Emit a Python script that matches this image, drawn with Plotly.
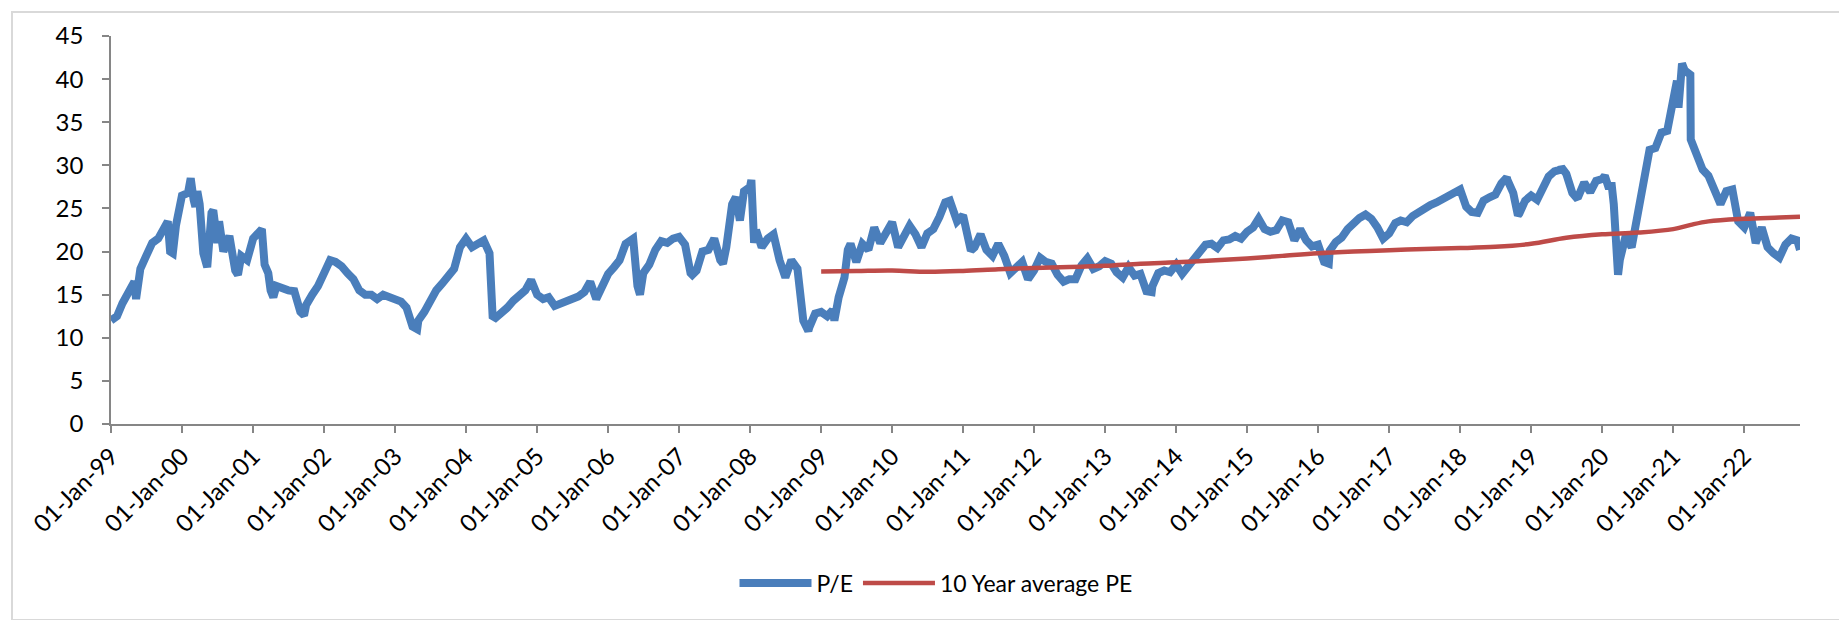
import pandas as pd
import plotly.graph_objects as go

# ---- data ----
years = list(range(1999, 2023))
pe_monthly = {
    1999: [12.0, 12.5, 14.0, 15.5, 16.5, 18.0, 19.5, 21.0, 21.5, 23.0, 20.0, 23.0],
    2000: [26.5, 26.8, 26.0, 25.5, 18.5, 24.5, 21.0, 20.0, 21.8, 17.8, 19.5, 19.0],
    2001: [21.5, 22.5, 18.5, 15.5, 16.0, 15.7, 15.5, 15.4, 13.0, 13.8, 15.0, 16.0],
    2002: [17.5, 19.0, 18.8, 18.3, 17.5, 16.8, 15.5, 15.0, 15.0, 14.5, 15.0, 14.7],
    2003: [14.6, 14.2, 13.5, 11.3, 12.0, 13.0, 14.5, 15.5, 16.3, 17.3, 18.0, 20.5],
    2004: [21.5, 20.5, 21.0, 21.3, 19.8, 12.3, 12.8, 13.5, 14.3, 15.0, 15.5, 16.7],
    2005: [15.0, 14.5, 14.7, 13.7, 14.0, 14.2, 14.4, 14.8, 15.3, 16.5, 14.5, 16.0],
    2006: [17.4, 18.2, 19.0, 20.9, 21.3, 16.0, 17.5, 18.5, 20.2, 21.2, 21.0, 21.5],
    2007: [21.7, 20.8, 17.5, 17.8, 20.0, 20.2, 21.5, 19.0, 20.5, 25.5, 25.0, 27.0],
    2008: [27.5, 22.5, 20.5, 21.5, 22.0, 19.0, 17.0, 19.0, 18.0, 12.0, 11.2, 12.8],
    2009: [13.0, 12.5, 13.2, 14.7, 17.0, 20.9, 18.8, 20.9, 20.2, 22.8, 21.0, 22.3],
    2010: [23.4, 20.5, 21.7, 23.0, 22.0, 20.5, 22.1, 22.6, 24.0, 25.7, 25.3, 23.5],
    2011: [24.2, 20.3, 20.5, 22.0, 20.2, 19.5, 20.9, 19.5, 17.5, 18.3, 18.8, 16.8],
    2012: [17.8, 19.3, 18.8, 18.6, 17.3, 16.5, 16.8, 16.8, 18.4, 19.2, 18.0, 18.3],
    2013: [18.9, 18.6, 17.6, 17.0, 18.2, 17.2, 17.4, 15.4, 16.0, 17.5, 17.8, 17.6],
    2014: [18.5, 17.4, 18.2, 19.2, 19.9, 20.8, 20.9, 20.4, 21.3, 21.4, 21.8, 21.5],
    2015: [22.3, 22.8, 23.8, 22.6, 22.3, 22.5, 23.6, 23.4, 21.3, 22.6, 21.3, 20.6],
    2016: [20.8, 18.8, 20.1, 21.1, 21.6, 22.6, 23.3, 23.9, 24.3, 23.8, 22.8, 21.5],
    2017: [22.1, 23.3, 23.6, 23.4, 24.1, 24.6, 25.0, 25.4, 25.7, 26.1, 26.4, 26.7],
    2018: [27.2, 25.2, 24.6, 24.5, 25.9, 26.3, 26.6, 27.9, 28.3, 26.8, 24.4, 25.9],
    2019: [26.5, 26.0, 27.4, 28.7, 29.3, 29.5, 29.0, 26.8, 26.4, 28.0, 26.9, 28.2],
    2020: [28.4, 27.6, 25.5, 19.0, 21.8, 20.5, 24.3, 28.5, 31.8, 32.0, 33.8, 34.0],
    2021: [37.5, 39.0, 41.0, 33.0, 31.5, 29.5, 28.8, 27.0, 25.5, 27.0, 27.2, 23.5],
    2022: [22.8, 24.5, 21.0, 22.8, 20.5, 19.8, 19.3, 20.8, 21.5, 21.3],
}
# extra intra-month readings (spikes, dips and sharp moves)
pe_extra_dates = [
    "1999-04-20", "1999-05-10", "1999-10-20", "1999-11-15",
    "2000-02-15", "2000-03-10", "2000-03-20", "2000-04-20", "2000-05-10",
    "2000-06-10", "2000-07-10", "2000-10-15",
    "2001-02-15", "2001-03-20", "2001-04-15", "2001-09-20",
    "2003-04-25", "2004-05-17", "2006-05-10", "2006-06-14",
    "2007-03-10", "2007-08-15", "2007-10-20", "2007-11-10",
    "2008-01-08", "2008-01-22", "2008-10-27", "2009-03-10", "2009-05-18",
    "2010-10-25", "2011-02-10", "2013-08-28", "2016-02-25",
    "2018-08-29", "2018-10-25", "2019-06-05", "2019-08-20",
    "2020-01-15", "2020-02-20", "2020-03-23", "2020-12-20",
    "2021-01-20", "2021-01-28", "2021-02-15", "2021-03-30", "2022-10-15",
]
pe_extra_values = [
    16.3, 14.5, 23.5, 19.8,
    28.5, 25.2, 27.0, 19.8, 18.2,
    24.8, 23.5, 17.3,
    22.6, 17.5, 14.7, 12.6,
    11.0, 12.5, 21.5, 15.0,
    17.3, 18.6, 26.3, 23.6,
    28.3, 21.0, 10.8, 12.0, 20.2,
    25.9, 20.1, 15.3, 18.6,
    28.6, 24.2, 29.8, 26.3,
    28.8, 27.6, 17.3, 36.7,
    39.8, 36.7, 41.8, 40.5, 20.2,
]

avg_dates = ["2009-01-01", "2009-07-01", "2010-01-01", "2010-07-01", "2011-01-01",
             "2011-07-01", "2012-01-01", "2012-07-01", "2013-01-01", "2013-07-01",
             "2014-01-01", "2014-07-01", "2015-01-01", "2015-07-01", "2016-01-01",
             "2016-07-01", "2017-01-01", "2017-07-01", "2018-01-01", "2018-07-01",
             "2019-01-01", "2019-07-01", "2020-01-01", "2020-07-01", "2021-01-01",
             "2021-04-01", "2021-07-01", "2022-01-01", "2022-07-01", "2022-10-15"]
avg_values = [17.7, 17.75, 17.8, 17.65, 17.75,
              17.95, 18.1, 18.2, 18.35, 18.6,
              18.75, 18.95, 19.2, 19.5, 19.8,
              20.0, 20.15, 20.3, 20.4, 20.55,
              20.9, 21.6, 22.0, 22.2, 22.6,
              23.1, 23.5, 23.8, 23.95, 24.05]

tick_years = list(range(1999, 2023))
tick_labels = ["01-Jan-%02d" % (y % 100) for y in tick_years]

# ---- build the series ----
rows = []
for y in years:
    for m, v in enumerate(pe_monthly[y], start=1):
        rows.append((pd.Timestamp(year=y, month=m, day=1), v))
for d, v in zip(pe_extra_dates, pe_extra_values):
    rows.append((pd.Timestamp(d), v))
pe = pd.DataFrame(rows, columns=["date", "pe"]).sort_values("date")

BLUE = "#4A7EBB"
RED = "#BE4B48"
FONT = "Lato"

fig = go.Figure()
fig.add_trace(go.Scatter(x=pe["date"], y=pe["pe"], mode="lines", name="P/E",
                         line=dict(color=BLUE, width=8)))
fig.add_trace(go.Scatter(x=pd.to_datetime(avg_dates), y=avg_values, mode="lines",
                         name="10 Year average PE",
                         line=dict(color=RED, width=4.5, shape="spline")))

W, H = 1847, 620
L, R, T, B = 103, 1792, 28, 416
pw, ph = R - L, B - T

def px(x):
    return (x - L) / pw

def py(y):
    return (B - y) / ph

fig.update_layout(
    width=W, height=H,
    margin=dict(l=L, r=W - R, t=T, b=H - B),
    paper_bgcolor="white", plot_bgcolor="white",
    font=dict(family=FONT, size=24, color="black"),
    showlegend=True,
    legend=dict(orientation="h", x=px(928), xanchor="center", y=py(575),
                yanchor="middle", font=dict(size=23), itemwidth=72,
                traceorder="normal"),
    xaxis=dict(
        type="date",
        range=["1999-01-01", "2022-10-15"],
        tickvals=[pd.Timestamp(year=y, month=1, day=1) for y in tick_years],
        ticktext=tick_labels,
        tickangle=-45,
        showgrid=False, zeroline=False,
        showline=True, linecolor="#868686", linewidth=1.5,
        ticks="outside", ticklen=7, tickcolor="#868686", tickwidth=1.5,
        tickfont=dict(size=24),
    ),
    yaxis=dict(
        range=[0, 45], tickvals=list(range(0, 50, 5)),
        showgrid=False, zeroline=False,
        showline=True, linecolor="#868686", linewidth=1.5,
        ticks="outside", ticklen=7, tickcolor="#868686", tickwidth=1.5,
        tickfont=dict(size=24), ticklabelstandoff=14,
    ),
    shapes=[dict(type="rect", xref="paper", yref="paper",
                 x0=px(4), x1=px(1840), y0=py(612), y1=py(4),
                 line=dict(color="#D9D9D9", width=2), layer="below")],
)

fig.write_html("out.html")
